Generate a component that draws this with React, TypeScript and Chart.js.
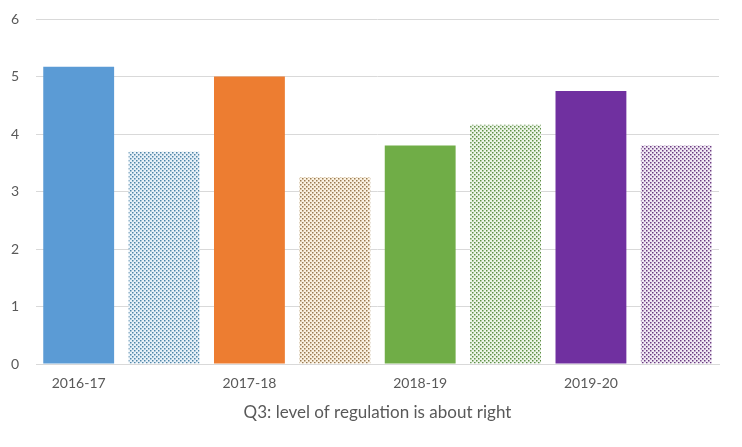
import React, { useEffect, useRef } from "react";
import { Chart, registerables } from "chart.js";
Chart.register(...registerables);

const categories = ["2016-17", "", "2017-18", "", "2018-19", "", "2019-20", ""];
const values = [5.17, 3.69, 5.0, 3.25, 3.8, 4.16, 4.75, 3.8];
const baseColors = ["#5B9BD5", "#5B9BD5", "#ED7D31", "#ED7D31", "#70AD47", "#70AD47", "#7030A0", "#7030A0"];
const dotColors = ["#5B9BD5", "#4F86A8", "#ED7D31", "#9A7A50", "#70AD47", "#5E8F45", "#7030A0", "#6A3A80"];
const tintColors = ["#5B9BD5", "#E8F1F8", "#ED7D31", "#FBF2E2", "#70AD47", "#EEF5EA", "#7030A0", "#F1EAF4"];
const patterned = [false, true, false, true, false, true, false, true];
const yTicks = [0, 1, 2, 3, 4, 5, 6];
const axisTitle = "Q3: level of regulation is about right";

function makePattern(dot: string, tint: string): CanvasPattern | string {
  const c = document.createElement("canvas");
  c.width = 4;
  c.height = 4;
  const ctx = c.getContext("2d");
  if (!ctx) return dot;
  ctx.fillStyle = tint;
  ctx.fillRect(0, 0, 4, 4);
  ctx.fillStyle = dot;
  ctx.fillRect(0, 0, 1.5, 1.5);
  ctx.fillRect(2, 2, 1.5, 1.5);
  const p = ctx.createPattern(c, "repeat");
  return p || dot;
}

export default function App() {
  const ref = useRef<HTMLCanvasElement>(null);
  useEffect(() => {
    document.body.style.margin = "0";
    const canvas = ref.current;
    if (!canvas) return;
    const bg = baseColors.map((col, i) => (patterned[i] ? makePattern(dotColors[i], tintColors[i]) : col));
    const font = "Lato, 'Open Sans', sans-serif";
    const chart = new Chart(canvas, {
      type: "bar",
      data: {
        labels: categories,
        datasets: [
          {
            data: values,
            backgroundColor: bg as any,
            borderWidth: 0,
            barPercentage: 0.83,
            categoryPercentage: 1,
          },
        ],
      },
      options: {
        animation: false,
        responsive: false,
        maintainAspectRatio: false,
        layout: { autoPadding: false, padding: { top: 19, right: 23, left: 0, bottom: 0 } },
        plugins: { legend: { display: false }, tooltip: { enabled: false } },
        scales: {
          x: {
            grid: { display: false, drawTicks: false },
            border: { display: true, color: "#d9d9d9", width: 1 },
            ticks: {
              color: "#595959",
              font: { family: font, size: 14 },
              padding: 11,
              autoSkip: false,
              maxRotation: 0,
            },
            title: {
              display: true,
              text: axisTitle,
              color: "#595959",
              font: { family: font, size: 17 },
              padding: { top: 4, bottom: 24 },
            },
            afterFit: (s: any) => {
              s.height = 83;
              s.paddingLeft = 0;
              s.paddingRight = 0;
            },
          },
          y: {
            min: 0,
            max: 6,
            afterBuildTicks: (s: any) => {
              s.ticks = yTicks.map((v) => ({ value: v }));
            },
            grid: { color: "#d9d9d9", drawTicks: false, lineWidth: 1 },
            border: { display: false },
            ticks: {
              color: "#595959",
              font: { family: font, size: 14 },
              padding: 17,
            },
            afterFit: (s: any) => {
              s.width = 36;
              s.paddingTop = 0;
              s.paddingBottom = 0;
            },
          },
        },
      },
    });
    return () => chart.destroy();
  }, []);
  return (
    <div style={{ position: "absolute", left: 0, top: 0, width: 742, height: 447, background: "#fff" }}>
      <canvas ref={ref} width={742} height={447} style={{ display: "block", width: 742, height: 447 }} />
    </div>
  );
}
